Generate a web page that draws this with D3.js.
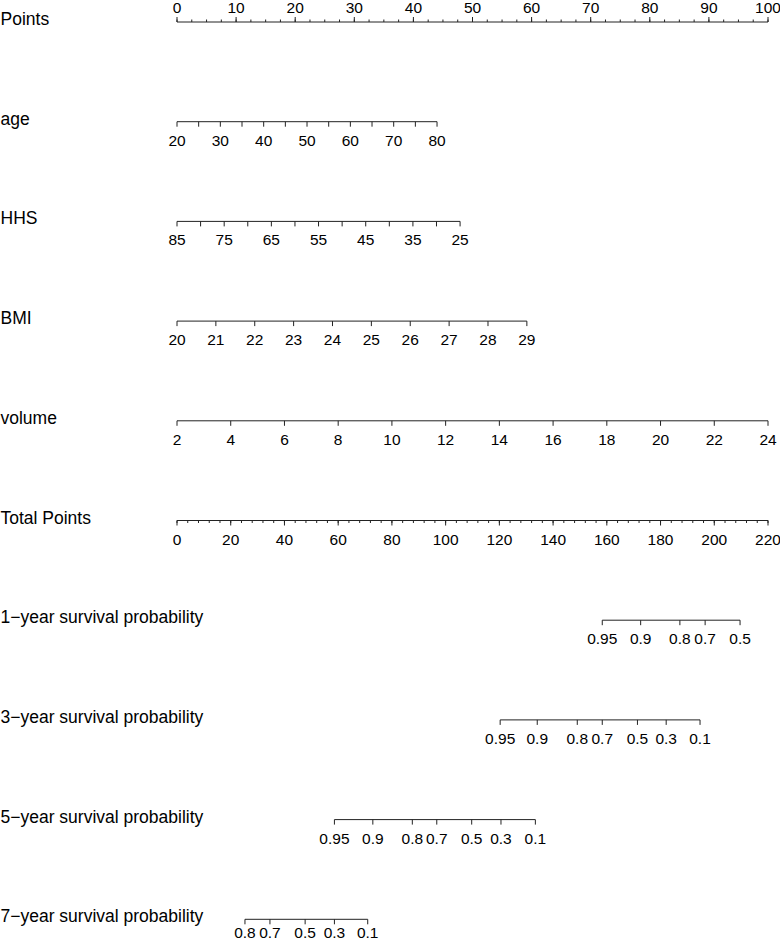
<!DOCTYPE html>
<html lang="en">
<head>
  <meta charset="utf-8"/>
  <script src="https://d3js.org/d3.v7.min.js"></script>
  <style>
    body { margin: 0; background: #fff; }
    svg text { font-family: "Liberation Sans", Arial, Helvetica, sans-serif; fill: #000; }
    .axis-line, .tick { stroke: #222; stroke-width: 1px; }
  </style>
</head>
<body>
<div id="chart"></div>
<script>
  // Row names, top to bottom
  const rowLabels = ["Points", "age", "HHS", "BMI", "volume", "Total Points",
    "1\u2212year survival probability", "3\u2212year survival probability",
    "5\u2212year survival probability", "7\u2212year survival probability"];

  // Points scale 0..100
  const pointsMajor = d3.range(0, 101, 10);
  const pointsMinor = d3.range(0, 100.1, 2.5);

  // Predictors: value at left end (0 points) and right end (max points)
  const ageRange = [20, 80],   agePoints = 44;
  const ageTicks = d3.range(20, 81, 5), ageLabels = d3.range(20, 81, 10);
  const hhsRange = [85, 25],   hhsPoints = 47.9;
  const hhsTicks = d3.range(85, 24, -5), hhsLabels = d3.range(85, 24, -10);
  const bmiRange = [20, 29],   bmiPoints = 59.2;
  const bmiTicks = d3.range(20, 30, 1);
  const volRange = [2, 24],    volPoints = 100;
  const volTicks = d3.range(2, 25, 2);

  // Total points 0..220
  const totalMajor = d3.range(0, 221, 20);
  const totalMinor = d3.range(0, 221, 4);

  // Survival probabilities and the total points they sit at
  const surv1Labels = ["0.95", "0.9", "0.8", "0.7", "0.5"];
  const surv1Total  = [158.3, 172.6, 187.2, 196.6, 209.6];
  const surv3Labels = ["0.95", "0.9", "0.8", "0.7", "0.5", "0.3", "0.1"];
  const surv3Total  = [120.3, 134.1, 149.0, 158.3, 171.4, 182.1, 194.7];
  const surv5Labels = ["0.95", "0.9", "0.8", "0.7", "0.5", "0.3", "0.1"];
  const surv5Total  = [58.6, 72.9, 87.6, 96.7, 109.7, 120.6, 133.4];
  const surv7Labels = ["0.8", "0.7", "0.5", "0.3", "0.1"];
  const surv7Total  = [25.3, 34.6, 47.7, 58.6, 71.0];

  const width = 780, height = 942;
  const x0 = 177, x1 = 768;
  const rowY = i => 22 + i * 99.7;

  const svg = d3.select("#chart").append("svg")
    .attr("width", width).attr("height", height);

  const xPoints = d3.scaleLinear().domain([0, 100]).range([x0, x1]);
  const xTotal  = d3.scaleLinear().domain([0, 220]).range([x0, x1]);

  // row labels
  svg.append("g").selectAll("text")
    .data(rowLabels).enter().append("text")
    .attr("x", 0.5).attr("y", (d, i) => rowY(i) + 3)
    .attr("font-size", "17.5px")
    .text(d => d);

  function drawLine(g, xa, xb, y) {
    g.append("line").attr("class", "axis-line")
      .attr("x1", xa).attr("x2", xb).attr("y1", y).attr("y2", y);
  }

  function drawTicks(g, xs, y, len) {
    g.selectAll(null).data(xs).enter().append("line")
      .attr("class", "tick")
      .attr("x1", d => d).attr("x2", d => d)
      .attr("y1", y).attr("y2", y + len);
  }

  function drawLabels(g, items, y) {
    g.selectAll(null).data(items).enter().append("text")
      .attr("x", d => d.x).attr("y", y)
      .attr("text-anchor", "middle")
      .attr("font-size", "15.5px")
      .text(d => d.t);
  }

  // Points row (labels on top, ticks pointing up)
  {
    const y = rowY(0), g = svg.append("g");
    drawLine(g, xPoints(0), xPoints(100), y);
    drawTicks(g, pointsMinor.map(xPoints), y, -2.5);
    drawTicks(g, pointsMajor.map(xPoints), y, -5);
    drawLabels(g, pointsMajor.map(v => ({x: xPoints(v), t: v})), y - 9.5);
  }

  // Predictor rows
  function predictorRow(i, range, maxPts, ticks, labels) {
    const y = rowY(i), g = svg.append("g");
    const s = d3.scaleLinear().domain(range).range([xPoints(0), xPoints(maxPts)]);
    drawLine(g, s(range[0]), s(range[1]), y);
    drawTicks(g, ticks.map(s), y, 5);
    drawLabels(g, labels.map(v => ({x: s(v), t: v})), y + 24);
  }
  predictorRow(1, ageRange, agePoints, ageTicks, ageLabels);
  predictorRow(2, hhsRange, hhsPoints, hhsTicks, hhsLabels);
  predictorRow(3, bmiRange, bmiPoints, bmiTicks, bmiTicks);
  predictorRow(4, volRange, volPoints, volTicks, volTicks);

  // Total points row
  {
    const y = rowY(5), g = svg.append("g");
    drawLine(g, xTotal(0), xTotal(220), y);
    drawTicks(g, totalMinor.map(xTotal), y, 2.5);
    drawTicks(g, totalMajor.map(xTotal), y, 5);
    drawLabels(g, totalMajor.map(v => ({x: xTotal(v), t: v})), y + 24);
  }

  // Survival rows
  function survRow(i, labels, totals) {
    const y = rowY(i), g = svg.append("g");
    const xs = totals.map(xTotal);
    drawLine(g, d3.min(xs), d3.max(xs), y);
    drawTicks(g, xs, y, 5);
    // keep the bottom row's labels inside the page
    drawLabels(g, labels.map((t, k) => ({x: xs[k], t: t})), Math.min(y + 24, height - 4.5));
  }
  survRow(6, surv1Labels, surv1Total);
  survRow(7, surv3Labels, surv3Total);
  survRow(8, surv5Labels, surv5Total);
  survRow(9, surv7Labels, surv7Total);
</script>
</body>
</html>
